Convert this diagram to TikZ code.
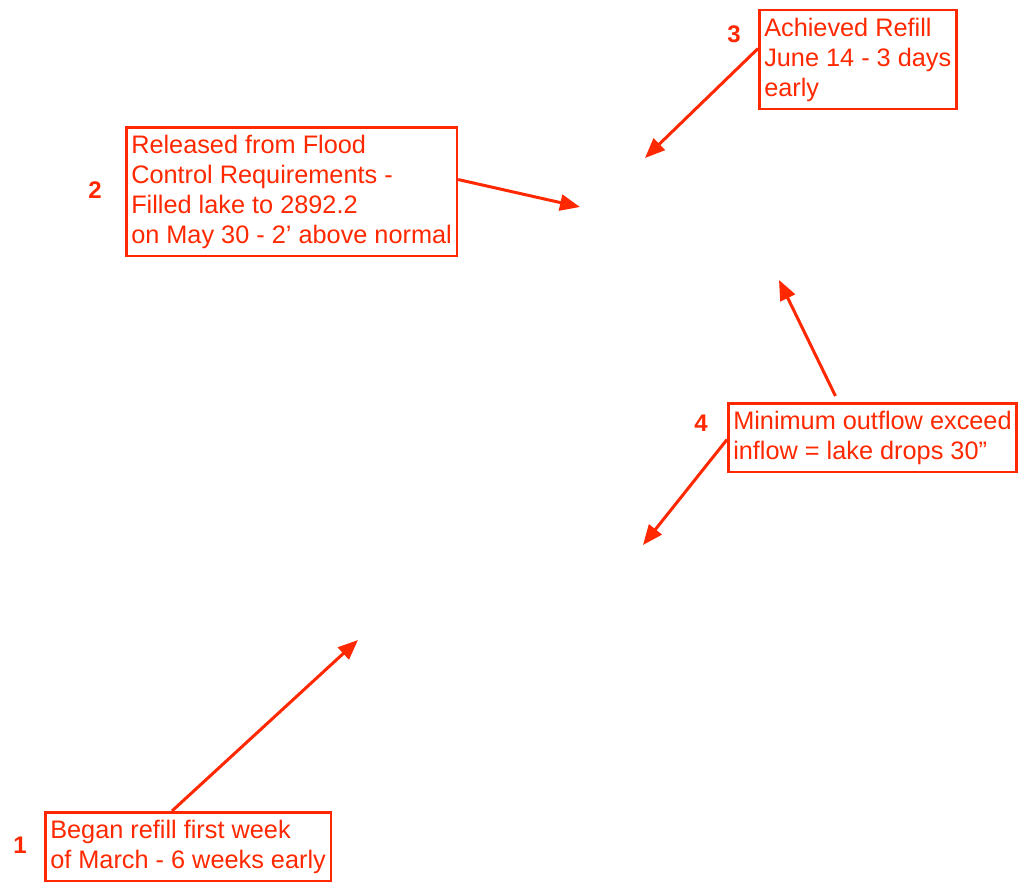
\documentclass[tikz,border=0pt]{standalone}
\usepackage{fontspec}
\setmainfont{Liberation Sans}
\usetikzlibrary{arrows.meta, positioning}
\definecolor{notered}{RGB}{255,40,0}
\tikzset{
  note/.style={draw=notered, line width=2.5pt, text=notered, anchor=north west, align=left,
    inner xsep=5pt, inner ysep=7.5pt, font=\fontsize{25.3}{30}\selectfont},
  num/.style={text=notered, inner sep=0pt, font=\bfseries\fontsize{24}{28}\selectfont},
  pointer/.style={draw=notered, line width=3pt, -{Triangle[length=20pt,width=16pt]}}
}

\begin{document}
\begin{tikzpicture}[x=1pt, y=-1pt]
	\useasboundingbox (0,0) rectangle (1021,883);

	% text boxes
	\node[note] (refill) at (44,811) {Began refill first week\\of March - 6 weeks early};
	\node[note] (flood) at (125,126) {Released from Flood\\Control Requirements -\\Filled lake to 2892.2\\on May 30 - 2’ above normal};
	\node[note] (achieved) at (758,9) {Achieved Refill\\June 14 - 3 days\\early};
	\node[note] (outflow) at (727,402) {Minimum outflow exceed\\inflow = lake drops 30”};

	% numbers
	\node[num] (numone) at (20,845) {1};
	\node[num] (numtwo) at (95,190) {2};
	\node[num] (numthree) at (734,34) {3};
	\node[num] (numfour) at (701,423) {4};

	% arrow tips
	\coordinate (tipone) at (358,640);
	\coordinate (tiptwo) at (580,207);
	\coordinate (tipthree) at (645,158);
	\coordinate (tipfourup) at (779,280);
	\coordinate (tipfourdown) at (643,545);

	\draw[pointer] ([xshift=128pt]refill.north west) -- (tipone);
	\draw[pointer] ([yshift=12pt]flood.east) -- (tiptwo);
	\draw[pointer] ([yshift=11pt]achieved.west) -- (tipthree);
	\draw[pointer] ([xshift=-37pt,yshift=6pt]outflow.north) -- (tipfourup);
	\draw[pointer] ([yshift=-2pt]outflow.west) -- (tipfourdown);
\end{tikzpicture}
\end{document}
